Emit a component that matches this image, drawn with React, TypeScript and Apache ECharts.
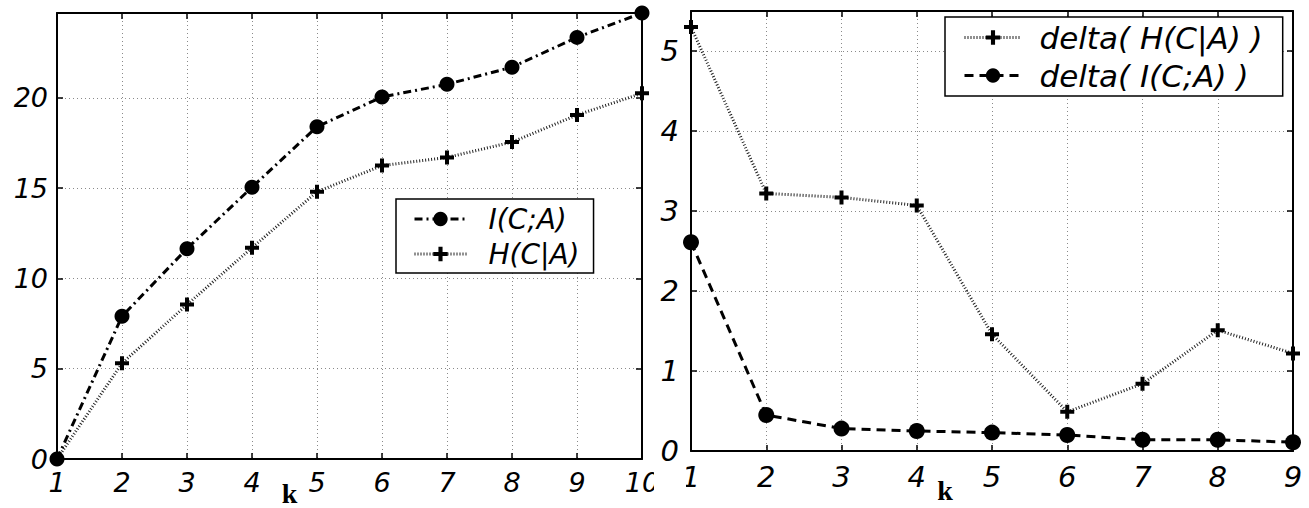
import React, { useEffect, useRef } from "react";
import * as echarts from "echarts";

// ---- data ----
const K_LEFT = [1, 2, 3, 4, 5, 6, 7, 8, 9, 10];
const I_CA = [0, 7.9, 11.65, 15.05, 18.4, 20.05, 20.75, 21.7, 23.35, 24.7];
const H_CA = [0, 5.3, 8.55, 11.7, 14.8, 16.25, 16.7, 17.55, 19.05, 20.25];

const K_RIGHT = [1, 2, 3, 4, 5, 6, 7, 8, 9];
const DELTA_H = [5.3, 3.22, 3.17, 3.07, 1.46, 0.49, 0.84, 1.51, 1.22];
const DELTA_I = [2.61, 0.45, 0.28, 0.25, 0.23, 0.2, 0.14, 0.14, 0.11];

const NAME_I = "I(C;A)";
const NAME_H = "H(C|A)";
const NAME_DH = "delta( H(C|A) )";
const NAME_DI = "delta( I(C;A) )";
const AXIS_NAME = "k";

const PLUS = "path://M5,0H9V5H14V9H9V14H5V9H0V5H5Z";
const FONT = "DejaVu Sans";

function pairs(xs: number[], ys: number[]) {
  return xs.map((x, i) => [x, ys[i]]);
}

function axisPair(
  grid: number,
  kind: "x" | "y",
  min: number,
  max: number,
  interval: number,
  fontSize: number,
  margin: number,
  name?: string,
  namePad?: number,
  nameGap?: number
) {
  const common = {
    type: "value",
    gridIndex: grid,
    min,
    max,
    interval,
    axisLine: { show: true, onZero: false, lineStyle: { color: "#000", width: 2 } },
    axisTick: { show: true, inside: true, length: 6, lineStyle: { color: "#000", width: 1.5 } },
  };
  const main: any = {
    ...common,
    position: kind === "x" ? "bottom" : "left",
    splitLine: { show: true, lineStyle: { color: "#8a8a8a", type: [1, 3], width: 1 } },
    axisLabel: {
      show: true,
      margin,
      fontFamily: FONT,
      fontStyle: "italic",
      fontSize,
      color: "#000",
      showMaxLabel: kind === "x",
    },
  };
  if (name) {
    main.name = name;
    main.nameLocation = "middle";
    main.nameGap = nameGap || 20;
    main.nameMoveOverlap = false;
    main.nameTextStyle = {
      fontFamily: "Liberation Serif",
      fontWeight: "bold",
      fontSize: 28,
      lineHeight: 22,
      color: "#000",
      padding: [0, namePad || 0, 0, 0],
    };
  }
  const second: any = {
    ...common,
    position: kind === "x" ? "top" : "right",
    splitLine: { show: false },
    axisLabel: { show: false },
  };
  return [main, second];
}

export default function App() {
  const ref = useRef<HTMLDivElement>(null);
  useEffect(() => {
    if (!ref.current) return;
    const chart = echarts.init(ref.current, null, { renderer: "svg" });

    const lx = axisPair(0, "x", 1, 10, 1, 27, 10, AXIS_NAME, 120, 23);
    const ly = axisPair(0, "y", 0, 24.7, 5, 27, 9);
    const rx = axisPair(1, "x", 1, 9, 1, 29, 11, AXIS_NAME, 94, 28);
    const ry = axisPair(1, "y", 0, 5.5, 1, 29, 12);

    const option: any = {
      animation: false,
      backgroundColor: "#fff",
      grid: [
        { left: 57, top: 13, width: 585, height: 446, containLabel: false, outerBoundsMode: "none" },
        { left: 691, top: 11, width: 602, height: 440, containLabel: false, outerBoundsMode: "none" },
      ],
      xAxis: [lx[0], lx[1], rx[0], rx[1]],
      yAxis: [ly[0], ly[1], ry[0], ry[1]],
      legend: [
        {
          data: [NAME_I, NAME_H],
          orient: "vertical",
          left: 396,
          top: 199,
          itemWidth: 52,
          itemHeight: 18,
          itemGap: 7,
          padding: [6, 14, 5, 17],
          borderColor: "#000",
          borderWidth: 1.5,
          backgroundColor: "#fff",
          selectedMode: false,
          lineStyle: { width: 3 },
          textStyle: {
            fontFamily: FONT,
            fontStyle: "italic",
            fontSize: 28,
            color: "#000",
            padding: [0, 0, 0, 17],
          },
        },
        {
          data: [NAME_DH, NAME_DI],
          orient: "vertical",
          left: 945,
          top: 17,
          itemWidth: 57,
          itemHeight: 18,
          itemGap: 7,
          padding: [5, 20, 5, 18],
          borderColor: "#000",
          borderWidth: 1.5,
          backgroundColor: "#fff",
          selectedMode: false,
          lineStyle: { width: 3 },
          textStyle: {
            fontFamily: FONT,
            fontStyle: "italic",
            fontSize: 31,
            color: "#000",
            padding: [0, 0, 0, 13],
          },
        },
      ],
      series: [
        {
          name: NAME_I,
          type: "line",
          xAxisIndex: 0,
          yAxisIndex: 0,
          data: pairs(K_LEFT, I_CA),
          symbol: "circle",
          symbolSize: 15,
          clip: false,
          itemStyle: { color: "#000" },
          lineStyle: { color: "#000", width: 3, type: [8, 4, 2, 4] },
          z: 3,
        },
        {
          name: NAME_H,
          type: "line",
          xAxisIndex: 0,
          yAxisIndex: 0,
          data: pairs(K_LEFT, H_CA),
          symbol: PLUS,
          symbolSize: 14,
          clip: false,
          itemStyle: { color: "#000" },
          lineStyle: { color: "#222", width: 3, type: [1, 2] },
          z: 2,
        },
        {
          name: NAME_DH,
          type: "line",
          xAxisIndex: 2,
          yAxisIndex: 2,
          data: pairs(K_RIGHT, DELTA_H),
          symbol: PLUS,
          symbolSize: 14,
          clip: false,
          itemStyle: { color: "#000" },
          lineStyle: { color: "#222", width: 3, type: [1, 2] },
          z: 2,
        },
        {
          name: NAME_DI,
          type: "line",
          xAxisIndex: 2,
          yAxisIndex: 2,
          data: pairs(K_RIGHT, DELTA_I),
          symbol: "circle",
          symbolSize: 16,
          clip: false,
          itemStyle: { color: "#000" },
          lineStyle: { color: "#000", width: 3, type: [9, 6] },
          z: 3,
        },
      ],
      graphic: [
        {
          type: "rect",
          left: 654,
          top: 466,
          shape: { width: 32, height: 36 },
          style: { fill: "#fff" },
          z: 100,
          silent: true,
        },
      ],
    };
    chart.setOption(option);
    return () => chart.dispose();
  }, []);
  return (
    <div
      ref={ref}
      style={{ position: "absolute", left: 0, top: 0, width: 1309, height: 508 }}
    />
  );
}
